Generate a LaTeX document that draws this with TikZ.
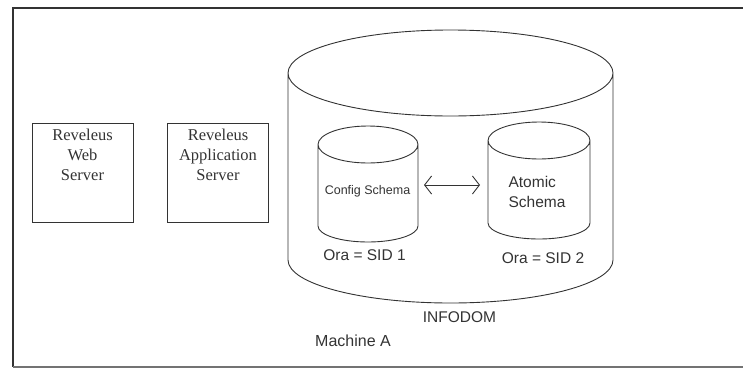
\documentclass[tikz,border=0pt]{standalone}
\usepackage{fontspec}
\setmainfont{Liberation Serif}
\setsansfont{Liberation Sans}
\usetikzlibrary{arrows.meta}

\tikzset{
  serverbox/.style={draw,minimum width=101pt,minimum height=99pt},
  servertext/.style={font=\rmfamily\fontsize{16.5}{20}\selectfont,align=center},
  dbtext/.style={font=\sffamily\fontsize{15.5}{20}\selectfont}
}

\begin{document}
\begin{tikzpicture}[x=1pt,y=-1pt,line width=0.9pt,black!80]
  \useasboundingbox (0,0) rectangle (743,370);
  % frame
  \draw[line width=2.6pt] (743,8) -- (13,8) -- (13,367);
  \draw[line width=1.2pt,black!55] (13,367) -- (743,367);
  % servers
  \foreach \x/\name/\txt in {82.5/web/{Reveleus\\Web\\Server},
                             218/app/{Reveleus\\Application\\Server}}{
    \node[serverbox,label={[servertext,anchor=north,yshift=-3pt]north:\txt}] (\name) at (\x,172.5) {};
  }
  % cylinders: INFODOM, config, atomic
  \foreach \cx/\rx/\ty/\by/\ry/\bry in {450.5/162.5/73/260/43/43,
                                       368/50/144.5/226/18.5/16,
                                       539/51/140.5/223/18.5/16}{
    \draw (\cx,\ty) ellipse [x radius=\rx,y radius=\ry]
          (\cx-\rx,\ty) -- (\cx-\rx,\by) arc[start angle=180,end angle=0,x radius=\rx,y radius=\bry]
          -- (\cx+\rx,\ty);
  }
  \node[font=\sffamily\fontsize{12.5}{14}\selectfont] (cfg) at (367.5,191) {Config Schema};
  \node[dbtext,align=left] (atm) at (537,192) {Atomic\\Schema};
  \node[dbtext] (sid1) at (364.5,255) {Ora = SID 1};
  \node[dbtext] (sid2) at (543,258) {Ora = SID 2};
  \node[dbtext] (infodom) at (459.5,317) {INFODOM};
  \node[dbtext,font=\sffamily\fontsize{16}{20}\selectfont] (mach) at (353,341) {Machine A};
  % link
  \coordinate (cfgend) at (424,185);
  \coordinate (atmend) at (480,185);
  \draw[{Straight Barb[length=7pt,width=18pt]}-{Straight Barb[length=7pt,width=18pt]}] (cfgend) -- (atmend);
\end{tikzpicture}
\end{document}
